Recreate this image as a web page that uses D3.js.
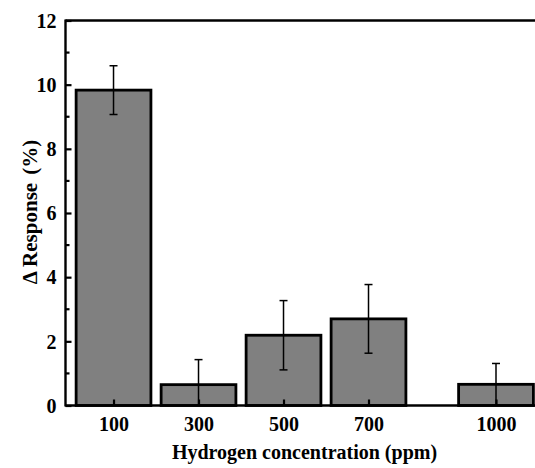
<!DOCTYPE html>
<html>
<head>
<meta charset="utf-8">
<script src="https://cdn.jsdelivr.net/npm/d3@7"></script>
<style>
  html, body { margin: 0; padding: 0; background: #fff; }
  svg { display: block; }
</style>
</head>
<body>
<svg id="chart" width="535" height="468"></svg>
<script>
// Hydrogen concentration (ppm) and mean response change with standard deviation
const concentrations = [100, 300, 500, 700, 1000];
const responses = [9.83, 0.65, 2.19, 2.70, 0.66];
const errors = [0.76, 0.78, 1.08, 1.07, 0.65];
const yTicks = [0, 2, 4, 6, 8, 10, 12];
const yMinorTicks = [1, 3, 5, 7, 9, 11];
const xTickLabels = ["100", "300", "500", "700", "1000"];

const serif = "'Liberation Serif', 'Times New Roman', Times, serif";
const svg = d3.select("#chart");
const plotLeft = 65.5, plotRight = 538.5, plotTop = 20.5, plotBottom = 405.5;

const x = d3.scaleLinear().domain([-13, 1100]).range([plotLeft, plotRight]);
const y = d3.scaleLinear().domain([0, 12]).range([plotBottom, plotTop]);
const barWidth = 176; // in ppm units

// Bars
svg.append("g").selectAll("rect")
  .data(concentrations)
  .join("rect")
  .attr("x", (d) => x(d - barWidth / 2))
  .attr("width", (d) => x(d + barWidth / 2) - x(d - barWidth / 2))
  .attr("y", (d, i) => y(responses[i]))
  .attr("height", (d, i) => y(0) - y(responses[i]))
  .attr("fill", "#808080")
  .attr("stroke", "#000")
  .attr("stroke-width", 2.8);

// Error bars
const eb = svg.append("g").attr("stroke", "#000").attr("stroke-width", 1.5);
concentrations.forEach((c, i) => {
  const cx = x(c);
  const y1 = y(responses[i] + errors[i]);
  const y0 = y(Math.max(0, responses[i] - errors[i]));
  eb.append("line").attr("x1", cx).attr("x2", cx).attr("y1", y1).attr("y2", y0);
  eb.append("line").attr("x1", cx - 4).attr("x2", cx + 4).attr("y1", y1).attr("y2", y1);
  if (responses[i] - errors[i] > 0) {
    eb.append("line").attr("x1", cx - 4).attr("x2", cx + 4).attr("y1", y0).attr("y2", y0);
  }
});

// Y axis (ticks pointing inward)
const yAxis = d3.axisLeft(y).tickValues(yTicks).tickSize(-6).tickPadding(9).tickFormat(d3.format("d"));
const gy = svg.append("g").attr("transform", `translate(${plotLeft},0)`).call(yAxis);
gy.select(".domain").remove();
gy.selectAll(".tick line").attr("stroke", "#000").attr("stroke-width", 2.2);
gy.selectAll(".tick text")
  .style("font-family", serif).style("font-weight", "bold").style("font-size", "20px")
  .attr("fill", "#000").attr("dy", "0.34em");
svg.append("g").selectAll("line")
  .data(yMinorTicks)
  .join("line")
  .attr("x1", plotLeft).attr("x2", plotLeft + 4)
  .attr("y1", (d) => y(d)).attr("y2", (d) => y(d))
  .attr("stroke", "#000").attr("stroke-width", 2.2);

// X axis (ticks pointing inward)
const xAxis = d3.axisBottom(x).tickValues(concentrations).tickSize(-6).tickPadding(11)
  .tickFormat((d, i) => xTickLabels[i]);
const gx = svg.append("g").attr("transform", `translate(0,${plotBottom})`).call(xAxis);
gx.select(".domain").remove();
gx.selectAll(".tick line").attr("stroke", "#000").attr("stroke-width", 2.2);
gx.selectAll(".tick text")
  .style("font-family", serif).style("font-weight", "bold").style("font-size", "20px")
  .attr("fill", "#000").attr("dy", "0.71em");

// Frame lines: left, bottom, top
const frame = svg.append("g").attr("stroke", "#000").attr("stroke-width", 2.4).attr("fill", "none");
frame.append("line").attr("x1", plotLeft).attr("x2", plotLeft).attr("y1", plotTop - 1).attr("y2", plotBottom + 1);
frame.append("line").attr("x1", plotLeft).attr("x2", plotRight).attr("y1", plotBottom).attr("y2", plotBottom);
frame.append("line").attr("x1", plotLeft).attr("x2", plotRight).attr("y1", plotTop).attr("y2", plotTop);

// Axis titles
svg.append("text")
  .attr("x", 304.5).attr("y", 459)
  .attr("text-anchor", "middle")
  .style("font-family", serif).style("font-weight", "bold").style("font-size", "20px")
  .attr("fill", "#000")
  .text("Hydrogen concentration (ppm)");

const yTitle = svg.append("text")
  .attr("transform", "translate(37,212) rotate(-90)")
  .attr("text-anchor", "middle")
  .style("font-family", serif).style("font-weight", "bold").style("font-size", "21px")
  .attr("fill", "#000");
yTitle.append("tspan").text("Δ Response");
yTitle.append("tspan").attr("dx", 8).text("(%)");
</script>
</body>
</html>
